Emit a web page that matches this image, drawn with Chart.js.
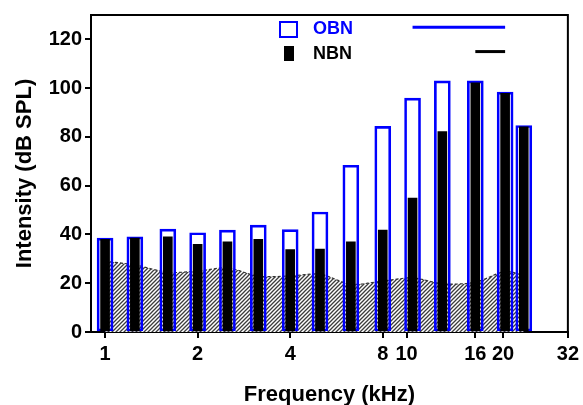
<!DOCTYPE html>
<html>
<head>
<meta charset="utf-8">
<script src="https://cdn.jsdelivr.net/npm/chart.js@4/dist/chart.umd.min.js"></script>
<style>
  body { margin: 0; background: #fff; }
  canvas { display: block; }
</style>
</head>
<body>
<canvas id="noiseChart" width="583" height="405"></canvas>
<script>
// band centre frequencies (kHz)
var freqs = [1, 1.25, 1.6, 2, 2.5, 3.15, 4, 5, 6.3, 8, 10, 12.5, 16, 20, 23];
// octave band noise levels (dB SPL)
var obnLevels = [38.5, 39, 42.2, 40.7, 41.8, 43.8, 42, 49.2, 68.4, 84.3, 95.9, 103, 103, 98.4, 84.7];
// narrow band noise levels (dB SPL)
var nbnLevels = [38, 38.5, 39, 36, 37, 38, 33.8, 34, 37, 41.8, 54.9, 82.2, 102.2, 97.9, 84.1];
// background noise floor (hatched area)
var floorLevels = [29, 27.5, 24.5, 25, 26.3, 22.9, 23, 23.7, 19.6, 20.9, 22.2, 19.8, 20.4, 24.8, 23.2];
// bandwidth bars in the key (kHz)
var obnBand = [10, 20];
var nbnBand = [16, 20];
var obnBandLevel = 125;
var nbnBandLevel = 115;
// x axis ticks
var tickValues = [1, 2, 4, 8, 9.56, 16, 19.7, 32];
var tickLabels = ['1', '2', '4', '8', '10', '16', '20', '32'];

var FONT = "'Liberation Sans', Arial, Helvetica, sans-serif";

// diagonal hatch pattern for the noise floor
function makeHatch() {
    var c = document.createElement('canvas');
    c.width = 4;
    c.height = 4;
    var g = c.getContext('2d');
    g.fillStyle = '#ffffff';
    g.fillRect(0, 0, 4, 4);
    g.strokeStyle = '#3c3c3c';
    g.lineWidth = 1.3;
    g.beginPath();
    g.moveTo(-1, 5); g.lineTo(5, -1);
    g.moveTo(-1, 1); g.lineTo(1, -1);
    g.moveTo(3, 5); g.lineTo(5, 3);
    g.stroke();
    return g.createPattern(c, 'repeat');
}

function toPoints(xs, ys) {
    return xs.map(function (x, i) { return { x: x, y: ys[i] }; });
}

// top and right frame lines
var framePlugin = {
    id: 'frame',
    afterDatasetsDraw: function (chart) {
        var a = chart.chartArea;
        var ctx = chart.ctx;
        ctx.save();
        ctx.strokeStyle = '#000';
        ctx.lineWidth = 2;
        ctx.beginPath();
        ctx.moveTo(a.left, a.top);
        ctx.lineTo(a.right, a.top);
        ctx.lineTo(a.right, a.bottom);
        ctx.stroke();
        ctx.restore();
    }
};

// key in the upper part of the plot
var keyPlugin = {
    id: 'key',
    afterDraw: function (chart) {
        var a = chart.chartArea;
        var ctx = chart.ctx;
        var x0 = a.left + 189;
        ctx.save();
        ctx.strokeStyle = '#0000ff';
        ctx.lineWidth = 2;
        ctx.strokeRect(x0, a.top + 7, 17, 15);
        ctx.fillStyle = '#000';
        ctx.fillRect(x0 + 4, a.top + 31, 10, 15);
        ctx.font = 'bold 18px ' + FONT;
        ctx.textBaseline = 'middle';
        ctx.fillStyle = '#0000ff';
        ctx.fillText('OBN', x0 + 33, a.top + 14);
        ctx.fillStyle = '#000';
        ctx.fillText('NBN', x0 + 33, a.top + 39);
        ctx.restore();
    }
};

var ctx = document.getElementById('noiseChart').getContext('2d');
var noiseChart = new Chart(ctx, {
    type: 'bar',
    data: {
        datasets: [
            {
                type: 'line',
                label: 'OBN bandwidth',
                data: toPoints(obnBand, [obnBandLevel, obnBandLevel]),
                borderColor: '#0000ff',
                borderWidth: 3,
                pointRadius: 0,
                fill: false,
                order: 0
            },
            {
                type: 'line',
                label: 'NBN bandwidth',
                data: toPoints(nbnBand, [nbnBandLevel, nbnBandLevel]),
                borderColor: '#000',
                borderWidth: 3,
                pointRadius: 0,
                fill: false,
                order: 0
            },
            {
                label: 'NBN',
                data: toPoints(freqs, nbnLevels),
                backgroundColor: '#000',
                borderWidth: 0,
                barThickness: 9,
                grouped: false,
                order: 1
            },
            {
                label: 'OBN',
                data: toPoints(freqs, obnLevels),
                backgroundColor: 'rgba(0,0,0,0)',
                borderColor: '#0000ff',
                borderWidth: 2,
                borderSkipped: false,
                barThickness: 16,
                grouped: false,
                order: 2
            },
            {
                type: 'line',
                label: 'Noise floor',
                data: toPoints(freqs, floorLevels),
                backgroundColor: makeHatch(),
                borderColor: '#333',
                borderWidth: 1.2,
                borderDash: [3, 2],
                pointRadius: 0,
                tension: 0.3,
                fill: 'origin',
                order: 3
            }
        ]
    },
    options: {
        responsive: false,
        devicePixelRatio: 1,
        animation: false,
        layout: {
            padding: { left: 0, top: 12, right: 12, bottom: 0 }
        },
        plugins: {
            legend: { display: false },
            tooltip: { enabled: false }
        },
        scales: {
            x: {
                type: 'logarithmic',
                min: 0.9,
                max: 32,
                offset: false,
                afterBuildTicks: function (scale) {
                    scale.ticks = tickValues.map(function (v) { return { value: v }; });
                },
                afterFit: function (scale) {
                    scale.height = 73;
                },
                ticks: {
                    autoSkip: false,
                    maxRotation: 0,
                    padding: 4,
                    color: '#000',
                    font: { family: FONT, size: 20, weight: 'bold' },
                    callback: function (value, index) {
                        return tickLabels[index];
                    }
                },
                grid: {
                    display: true,
                    offset: false,
                    drawOnChartArea: false,
                    drawTicks: true,
                    tickLength: 6,
                    color: '#000',
                    lineWidth: 2
                },
                border: { display: true, color: '#000', width: 2 },
                title: {
                    display: true,
                    text: 'Frequency (kHz)',
                    color: '#000',
                    font: { family: FONT, size: 22, weight: 'bold', lineHeight: 1.2 },
                    padding: { top: 0, bottom: -3 }
                }
            },
            y: {
                min: 0,
                max: 130,
                afterFit: function (scale) {
                    scale.width = 91;
                },
                ticks: {
                    stepSize: 20,
                    includeBounds: false,
                    padding: 3,
                    color: '#000',
                    font: { family: FONT, size: 20, weight: 'bold' }
                },
                grid: {
                    display: true,
                    drawOnChartArea: false,
                    drawTicks: true,
                    tickLength: 6,
                    color: '#000',
                    lineWidth: 2
                },
                border: { display: true, color: '#000', width: 2 },
                title: {
                    display: true,
                    text: 'Intensity (dB SPL)',
                    color: '#000',
                    font: { family: FONT, size: 22, weight: 'bold', lineHeight: 1.2 },
                    padding: { top: 12, bottom: 0 }
                }
            }
        }
    },
    plugins: [framePlugin, keyPlugin]
});
</script>
</body>
</html>
